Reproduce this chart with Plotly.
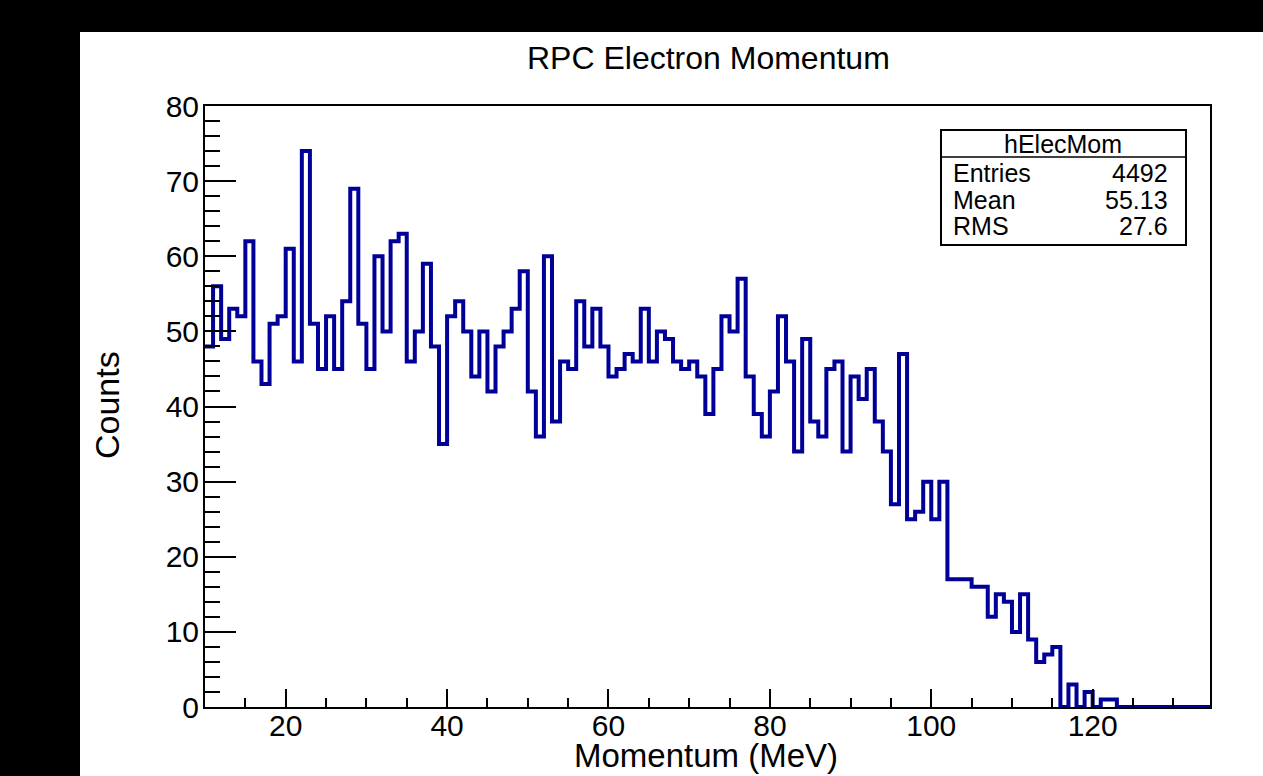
import plotly.graph_objects as go

# ---------------- data ----------------
hist_name = "hElecMom"
title_text = "RPC Electron Momentum"
x_title = "Momentum (MeV)"
y_title = "Counts"

bin_start = 10      # low edge of first bin (MeV)
bin_width = 1       # MeV
counts = [48, 56, 49, 53, 52, 62, 46, 43, 51, 52,
          61, 46, 74, 51, 45, 52, 45, 54, 69, 51,
          45, 60, 50, 62, 63, 46, 50, 59, 48, 35,
          52, 54, 50, 44, 50, 42, 48, 50, 53, 58,
          42, 36, 60, 38, 46, 45, 54, 48, 53, 48,
          44, 45, 47, 46, 53, 46, 50, 49, 46, 45,
          46, 44, 39, 45, 52, 50, 57, 44, 39, 36,
          42, 52, 46, 34, 49, 38, 36, 45, 46, 34,
          44, 41, 45, 38, 34, 27, 47, 25, 26, 30,
          25, 30, 17, 17, 17, 16, 16, 12, 15, 14,
          10, 15, 9, 6, 7, 8, 0, 3, 0, 2,
          0, 1, 1, 0, 0, 0, 0, 0, 0, 0,
          0, 0, 0, 0, 0]

x_tickvals = [20, 40, 60, 80, 100, 120]
y_tickvals = [0, 10, 20, 30, 40, 50, 60, 70, 80]

stats_labels = ["Entries", "Mean", "RMS"]
stats_values = ["4492", "55.13", "27.6"]

# ---------------- geometry / style ----------------
W, H = 1263, 776
ML, MR, MT, MB = 205, 53, 106, 69
PW = W - ML - MR
PH = H - MT - MB
FONT = "Liberation Sans, Arial, Helvetica, sans-serif"
LINE_COLOR = "#000099"


def px2x(px):
    return (px - ML) / PW


def px2y(py):
    return (H - MB - py) / PH


edges = [bin_start + i * bin_width for i in range(len(counts) + 1)]
step_y = counts + [counts[-1]]

fig = go.Figure()
fig.add_trace(go.Scatter(
    x=edges, y=step_y, mode="lines", line_shape="hv",
    line=dict(color=LINE_COLOR, width=4),
    hoverinfo="skip", showlegend=False, cliponaxis=True,
))

shapes = [
    # white canvas on black background
    dict(type="rect", xref="paper", yref="paper", layer="below",
         x0=px2x(80), x1=px2x(W + 5), y0=px2y(H + 5), y1=px2y(32),
         fillcolor="white", line=dict(width=0)),
    # stats box
    dict(type="rect", xref="paper", yref="paper", layer="above",
         x0=px2x(941), x1=px2x(1186), y0=px2y(245), y1=px2y(130),
         fillcolor="white", line=dict(color="black", width=2)),
    dict(type="line", xref="paper", yref="paper", layer="above",
         x0=px2x(941), x1=px2x(1186), y0=px2y(157), y1=px2y(157),
         line=dict(color="black", width=1.5)),
]

annotations = [
    dict(text=title_text, x=px2x(708), y=px2y(58), xref="paper", yref="paper",
         xanchor="center", yanchor="middle", showarrow=False,
         font=dict(family=FONT, size=32, color="black")),
    dict(text=x_title, x=px2x(706), y=px2y(755), xref="paper", yref="paper",
         xanchor="center", yanchor="middle", showarrow=False,
         font=dict(family=FONT, size=33, color="black")),
    dict(text=y_title, x=px2x(107), y=px2y(405), xref="paper", yref="paper",
         xanchor="center", yanchor="middle", showarrow=False, textangle=-90,
         font=dict(family=FONT, size=34, color="black")),
    dict(text=hist_name, x=px2x(1063), y=px2y(144), xref="paper", yref="paper",
         xanchor="center", yanchor="middle", showarrow=False,
         font=dict(family=FONT, size=25, color="black")),
]
row_y = [173, 200, 226]
for lab, val, ry in zip(stats_labels, stats_values, row_y):
    annotations.append(dict(text=lab, x=px2x(951), y=px2y(ry), xref="paper", yref="paper",
                            xanchor="left", yanchor="middle", showarrow=False,
                            font=dict(family=FONT, size=25, color="black")))
    annotations.append(dict(text=val, x=px2x(1170), y=px2y(ry), xref="paper", yref="paper",
                            xanchor="right", yanchor="middle", showarrow=False,
                            font=dict(family=FONT, size=25, color="black")))

axis_common = dict(
    showline=True, mirror=True, linecolor="black", linewidth=2,
    showgrid=False, zeroline=False, ticks="inside", tickcolor="black",
    tickwidth=2, tickfont=dict(family=FONT, size=30, color="black"),
)

fig.update_layout(
    width=W, height=H,
    margin=dict(l=ML, r=MR, t=MT, b=MB, pad=0),
    paper_bgcolor="black", plot_bgcolor="white",
    shapes=shapes, annotations=annotations,
    xaxis=dict(range=[10, 134.54], tickvals=x_tickvals, ticklen=18,
               minor=dict(dtick=5, tick0=0, ticklen=9, tickwidth=2,
                          tickcolor="black", ticks="inside"),
               ticklabelstandoff=-9, **axis_common),
    yaxis=dict(range=[0, 80], tickvals=y_tickvals, ticklen=31,
               minor=dict(dtick=2, tick0=0, ticklen=15, tickwidth=2,
                          tickcolor="black", ticks="inside"),
               ticklabelstandoff=-2, **axis_common),
)

fig.write_html("out.html")
